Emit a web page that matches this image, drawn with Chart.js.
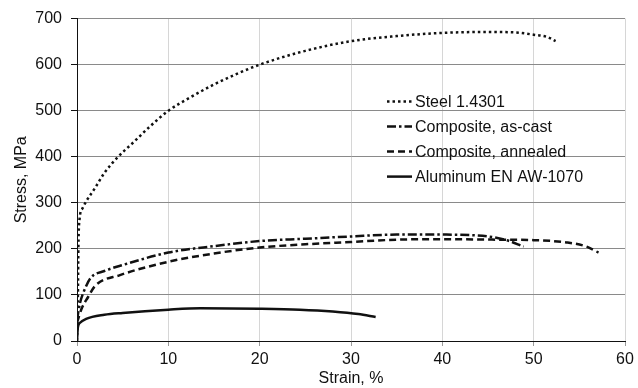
<!DOCTYPE html>
<html>
<head>
<meta charset="utf-8">
<script src="https://cdn.jsdelivr.net/npm/chart.js@4/dist/chart.umd.min.js"></script>
<style>
  html, body { margin: 0; padding: 0; background: #fff; }
  #wrap { width: 638px; height: 388px; }
</style>
</head>
<body>
<div id="wrap"><canvas id="chart"></canvas></div>
<script>
// values
const steelStrain = [0, 0.1, 0.15, 0.3, 0.6, 1, 2, 3, 4.5, 6, 8, 10, 12.5, 15, 17.5, 20, 25, 30, 35, 40, 45, 48, 50, 51.5, 52.4];
const steelStress = [0, 100, 200, 268, 288, 303, 333, 365, 400, 428, 466, 500, 530, 557, 580, 600, 630, 651, 662, 669, 671, 670, 665, 660, 651];

const castStrain = [0, 0.3, 0.8, 1.5, 3, 5, 10, 15, 20, 25, 30, 35, 40, 43, 45, 47, 48.9];
const castStress = [45, 80, 110, 137, 152, 165, 192, 206, 217, 222, 227, 231, 231, 230, 227, 219, 205];

const annealStrain = [0, 0.5, 1.2, 2, 4.7, 10, 15, 20, 25, 30, 35, 40, 46, 50, 53.6, 55.8, 57.1];
const annealStress = [40, 70, 95, 120, 143, 172, 190, 203, 210, 215, 220, 221, 220, 219, 214, 205, 192];

const aluStrain = [0, 0.1, 0.3, 1, 3, 5, 10, 13.5, 20, 24.4, 28, 30.8, 32.7];
const aluStress = [0, 30, 39, 48, 57, 61, 68, 71, 70, 68, 64, 58.5, 52];

const seriesNames = ['Steel 1.4301', 'Composite, as-cast', 'Composite, annealed', 'Aluminum EN AW-1070'];

const toPoints = (xs, ys) => xs.map((x, i) => ({x: x, y: ys[i]}));

const ink = '#111';

// legend drawn inside the plot, no box
const insideLegend = {
    id: 'insideLegend',
    afterDraw(chart) {
        const ctx = chart.ctx;
        const area = chart.chartArea;
        const x0 = area.left + 310;
        const y0 = area.top + 83;
        ctx.save();
        ctx.font = '16px "Liberation Sans", Arial, sans-serif';
        ctx.textBaseline = 'middle';
        ctx.fillStyle = ink;
        chart.data.datasets.forEach((ds, i) => {
            const y = y0 + i * 25;
            ctx.strokeStyle = ds.borderColor;
            ctx.lineWidth = ds.borderWidth;
            ctx.setLineDash(ds.borderDash || []);
            ctx.beginPath();
            ctx.moveTo(x0, y);
            ctx.lineTo(x0 + 25, y);
            ctx.stroke();
            ctx.setLineDash([]);
            ctx.fillText(ds.label, x0 + 28, y + 1);
        });
        ctx.restore();
    }
};

new Chart(document.getElementById('chart').getContext('2d'), {
    type: 'line',
    data: {
        datasets: [
            {label: seriesNames[0], data: toPoints(steelStrain, steelStress), borderDash: [2.5, 3]},
            {label: seriesNames[1], data: toPoints(castStrain, castStress), borderDash: [9, 3, 2.5, 3]},
            {label: seriesNames[2], data: toPoints(annealStrain, annealStress), borderDash: [7, 4]},
            {label: seriesNames[3], data: toPoints(aluStrain, aluStress), borderDash: []}
        ].map(ds => Object.assign(ds, {
            borderColor: ink, borderWidth: 2.5, pointRadius: 0, fill: false,
            cubicInterpolationMode: 'monotone'
        }))
    },
    options: {
        responsive: true,
        maintainAspectRatio: false,
        animation: false,
        layout: {padding: {top: 17, right: 13, left: 0, bottom: 0}},
        plugins: {legend: {display: false}, tooltip: {enabled: false}},
        scales: {
            x: {
                type: 'linear', min: 0, max: 60,
                ticks: {stepSize: 10, color: ink, padding: 4, maxRotation: 0,
                    font: {family: '"Liberation Sans", Arial, sans-serif', size: 16}},
                grid: {color: '#d6d6d6', tickColor: '#9a9a9a', tickLength: 5},
                border: {color: ink, width: 1},
                title: {display: true, text: 'Strain, %', color: ink, padding: {top: 0, bottom: 0},
                    font: {family: '"Liberation Sans", Arial, sans-serif', size: 16}},
                afterFit: s => { s.height = 47; }
            },
            y: {
                min: 0, max: 700,
                ticks: {stepSize: 100, color: ink, padding: 9,
                    font: {family: '"Liberation Sans", Arial, sans-serif', size: 16}},
                grid: {color: '#8a8a8a', tickColor: ink, tickLength: 6},
                border: {color: ink, width: 1},
                title: {display: true, text: 'Stress, MPa', color: ink, padding: {top: 12, bottom: 0},
                    font: {family: '"Liberation Sans", Arial, sans-serif', size: 16}},
                afterFit: s => { s.width = 77; }
            }
        }
    },
    plugins: [insideLegend]
});
</script>
</body>
</html>
